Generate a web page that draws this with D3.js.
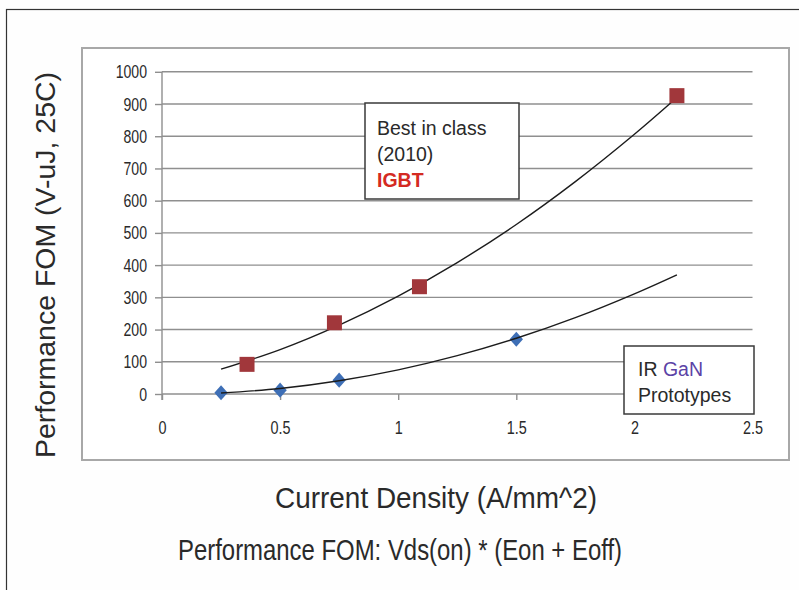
<!DOCTYPE html>
<html><head><meta charset="utf-8">
<script src="https://cdn.jsdelivr.net/npm/d3@7"></script>
<style>html,body{margin:0;padding:0;background:#fefefe;} svg{display:block;font-family:"Liberation Sans",Arial,sans-serif;}</style>
</head><body><svg id="chart" width="799" height="590"></svg>
<script>
// ---- data ----
const igbtX = [0.36, 0.73, 1.09, 2.18];
const igbtY = [92, 221, 333, 926];
const ganX = [0.25, 0.50, 0.75, 1.50];
const ganY = [4, 12, 43, 170];
const trendX = [0.25, 0.5, 0.75, 1.0, 1.25, 1.5, 1.75, 2.0, 2.18];
const igbtTrendY = [77, 138, 214, 304, 408, 526, 659, 806, 920];
const ganTrendY = [3, 17, 41, 75, 119, 173, 237, 311, 370];
const xTicks = [0, 0.5, 1, 1.5, 2, 2.5];
const xTickLabels = ["0", "0.5", "1", "1.5", "2", "2.5"];
const yTicks = [0, 100, 200, 300, 400, 500, 600, 700, 800, 900, 1000];
const yTickLabels = ["0", "100", "200", "300", "400", "500", "600", "700", "800", "900", "1000"];
const yTitle = "Performance FOM (V-uJ, 25C)";
const xTitle = "Current Density (A/mm^2)";
const subTitle = "Performance FOM: Vds(on) * (Eon + Eoff)";
const igbtNote = ["Best in class", "(2010)", "IGBT"];
const ganNote = ["IR ", "GaN", "Prototypes"];

const svg = d3.select("#chart");
const x = d3.scaleLinear().domain([0, 2.5]).range([162, 752.5]);
const y = d3.scaleLinear().domain([0, 1000]).range([394, 71.8]);
const textCol = "#2a2a2a";
const gridCol = "#8f8f8f";

function condense(sel, f) {
  sel.each(function () {
    const w = this.getComputedTextLength();
    d3.select(this).attr("textLength", w * f).attr("lengthAdjust", "spacingAndGlyphs");
  });
}

// frames
svg.append("rect").attr("x", 6.5).attr("y", 9.5).attr("width", 900).attr("height", 700)
  .attr("fill", "none").attr("stroke", "#333").attr("stroke-width", 1.2);
svg.append("rect").attr("x", 82).attr("y", 48).attr("width", 707).attr("height", 412)
  .attr("fill", "#fff").attr("stroke", "#a8a8a8").attr("stroke-width", 2);

// gridlines
svg.append("g").selectAll("line").data(yTicks).join("line")
  .attr("x1", x(0)).attr("x2", x(2.5)).attr("y1", d => y(d)).attr("y2", d => y(d))
  .attr("stroke", gridCol).attr("stroke-width", 1.4);

// y axis
const yAxis = d3.axisLeft(y).tickValues(yTicks).tickFormat((d, i) => yTickLabels[i]).tickSize(7).tickPadding(8);
const gy = svg.append("g").attr("transform", `translate(${x(0)},0)`).call(yAxis);
gy.select(".domain").remove();
gy.selectAll(".tick line").attr("stroke", gridCol).attr("stroke-width", 1.4);
gy.selectAll(".tick text").attr("fill", textCol).style("font-size", "19px").style("font-family", "Liberation Sans, Arial, sans-serif");
condense(gy.selectAll(".tick text"), 0.74);
svg.append("line").attr("x1", x(0)).attr("x2", x(0)).attr("y1", y(1000)).attr("y2", y(0) + 6)
  .attr("stroke", gridCol).attr("stroke-width", 1.4);

// x axis
const xAxis = d3.axisBottom(x).tickValues(xTicks).tickFormat((d, i) => xTickLabels[i]).tickSize(6).tickPadding(21);
const gx = svg.append("g").attr("transform", `translate(0,${y(0)})`).call(xAxis);
gx.select(".domain").remove();
gx.selectAll(".tick line").attr("stroke", gridCol).attr("stroke-width", 1.4);
gx.selectAll(".tick text").attr("fill", textCol).style("font-size", "18px").style("font-family", "Liberation Sans, Arial, sans-serif");
condense(gx.selectAll(".tick text"), 0.8);

// annotation boxes
const b1 = svg.append("g");
b1.append("rect").attr("x", 365).attr("y", 103).attr("width", 154).attr("height", 96)
  .attr("fill", "#fff").attr("stroke", "#3a3a3a").attr("stroke-width", 1.5);
b1.selectAll("text").data(igbtNote).join("text")
  .attr("x", 377).attr("y", (d, i) => 135 + i * 25.8)
  .attr("fill", (d, i) => i === 2 ? "#d42a22" : textCol)
  .attr("font-weight", (d, i) => i === 2 ? "bold" : "normal")
  .style("font-size", "19.5px").text(d => d);

const b2 = svg.append("g");
b2.append("rect").attr("x", 624).attr("y", 346).attr("width", 130).attr("height", 68)
  .attr("fill", "#fff").attr("stroke", "#3a3a3a").attr("stroke-width", 1.5);
const t1 = b2.append("text").attr("x", 638).attr("y", 376).style("font-size", "19.5px").attr("fill", textCol);
t1.append("tspan").text(ganNote[0]);
t1.append("tspan").attr("fill", "#5b43a6").text(ganNote[1]);
b2.append("text").attr("x", 638).attr("y", 402).style("font-size", "19.5px").attr("fill", textCol).text(ganNote[2]);

// trend lines
const line = d3.line().x(d => x(d[0])).y(d => y(d[1])).curve(d3.curveCatmullRom);
svg.append("path").datum(trendX.map((v, i) => [v, igbtTrendY[i]])).attr("d", line)
  .attr("fill", "none").attr("stroke", "#1c1c1c").attr("stroke-width", 1.4);

// markers
const diamond = {
  draw(ctx, size) {
    const h = Math.sqrt(size) / 2;
    const w = h * 0.88;
    ctx.moveTo(0, -h); ctx.lineTo(w, 0); ctx.lineTo(0, h); ctx.lineTo(-w, 0); ctx.closePath();
  }
};
svg.append("g").selectAll("path").data(igbtX.map((v, i) => [v, igbtY[i]])).join("path")
  .attr("transform", d => `translate(${x(d[0])},${y(d[1])})`)
  .attr("d", d3.symbol(d3.symbolSquare, 225)).attr("fill", "#a1373b");
svg.append("g").selectAll("path").data(ganX.map((v, i) => [v, ganY[i]])).join("path")
  .attr("transform", d => `translate(${x(d[0])},${y(d[1])})`)
  .attr("d", d3.symbol(diamond, 230)).attr("fill", "#3e6fb6");

svg.append("path").datum(trendX.map((v, i) => [v, ganTrendY[i]])).attr("d", line)
  .attr("fill", "none").attr("stroke", "#1c1c1c").attr("stroke-width", 1.4);

// titles
const yt = svg.append("text").attr("transform", "translate(55,265) rotate(-90)")
  .attr("text-anchor", "middle").attr("fill", textCol).style("font-size", "28px").text(yTitle);
yt.attr("textLength", 386).attr("lengthAdjust", "spacingAndGlyphs");
svg.append("text").attr("x", 436).attr("y", 508).attr("text-anchor", "middle").attr("fill", textCol)
  .style("font-size", "30px").attr("textLength", 322).attr("lengthAdjust", "spacingAndGlyphs").text(xTitle);
svg.append("text").attr("x", 400).attr("y", 560).attr("text-anchor", "middle").attr("fill", textCol)
  .style("font-size", "30px").attr("textLength", 444).attr("lengthAdjust", "spacingAndGlyphs").text(subTitle);
</script></body></html>
